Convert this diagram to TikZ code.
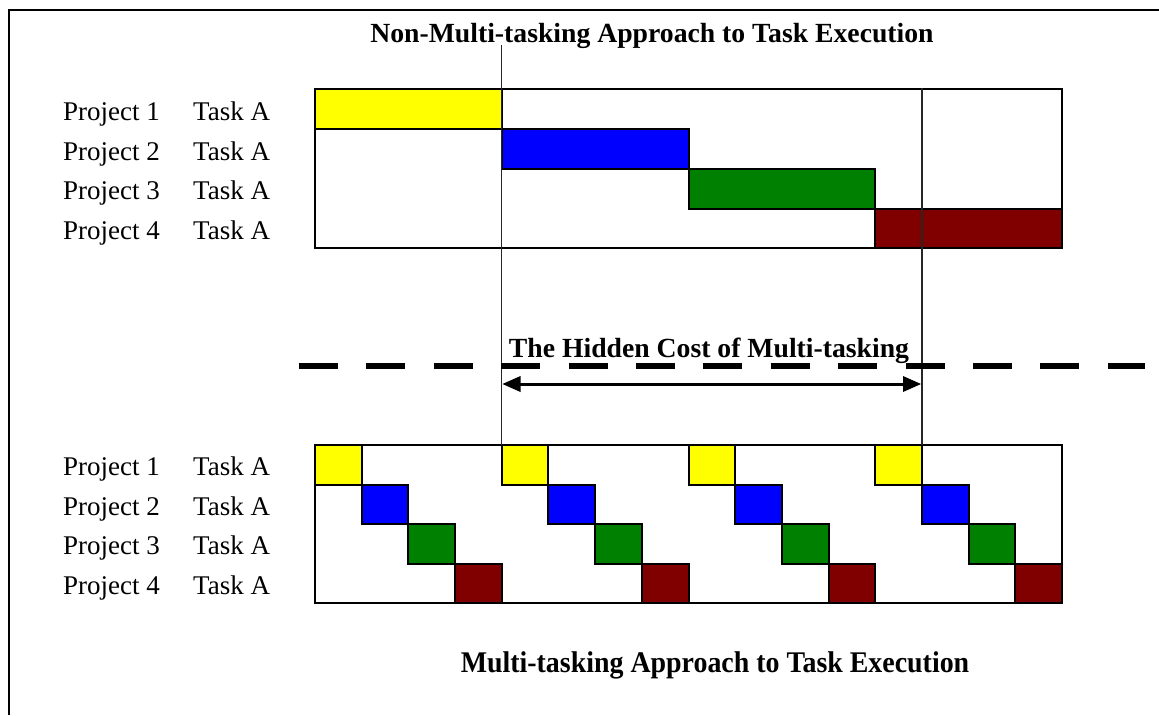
\documentclass[tikz,border=0pt]{standalone}
\usepackage{fontspec}
\setmainfont{Liberation Serif}
\usetikzlibrary{calc}
\definecolor{taskYellow}{RGB}{255,255,0}
\definecolor{taskBlue}{RGB}{0,0,255}
\definecolor{taskGreen}{RGB}{0,128,0}
\definecolor{taskRed}{RGB}{128,0,0}

\begin{document}
\begin{tikzpicture}[x=1pt,y=-1pt]
	\tikzstyle{every node}+=[inner sep=0pt]
	\tikzstyle{lbl}=[anchor=base west,font=\fontsize{27}{30}\selectfont]
	\tikzstyle{ttl}=[anchor=base,font=\fontsize{27.7}{30}\selectfont\bfseries]
	\tikzstyle{box}=[draw=black,line width=2pt]
	\useasboundingbox (0,0) rectangle (1159,715);
	% frame (cut off on the right and at the bottom)
	\draw [black,line width=2.5pt] (1159,10) -- (9,10) -- (9,715);
	% titles
	\node [ttl] (topTitle) at (652,42) {Non-Multi-tasking Approach to Task Execution};
	\node [ttl] (costTitle) at (709,357) {The Hidden Cost of Multi-tasking};
	\node [anchor=base,font=\fontsize{30}{32}\selectfont\bfseries] (botTitle) at (715,672) {\scalebox{0.93}[1]{Multi-tasking Approach to Task Execution}};
	% row labels, upper chart
	\node [lbl] (proj1a) at (63,120) {Project 1};
	\node [lbl] (task1a) at (193,120) {Task A};
	\node [lbl] (proj2a) at (63,160) {Project 2};
	\node [lbl] (task2a) at (193,160) {Task A};
	\node [lbl] (proj3a) at (63,199.5) {Project 3};
	\node [lbl] (task3a) at (193,199.5) {Task A};
	\node [lbl] (proj4a) at (63,239) {Project 4};
	\node [lbl] (task4a) at (193,239) {Task A};
	% row labels, lower chart
	\node [lbl] (proj1b) at (63,475.5) {Project 1};
	\node [lbl] (task1b) at (193,475.5) {Task A};
	\node [lbl] (proj2b) at (63,515) {Project 2};
	\node [lbl] (task2b) at (193,515) {Task A};
	\node [lbl] (proj3b) at (63,554.5) {Project 3};
	\node [lbl] (task3b) at (193,554.5) {Task A};
	\node [lbl] (proj4b) at (63,594) {Project 4};
	\node [lbl] (task4b) at (193,594) {Task A};
	% upper chart
	\draw [box] (315,89) rectangle (1062,248);
	\filldraw [box,fill=taskYellow] (315,89) rectangle (501.75,129);
	\filldraw [box,fill=taskBlue] (501.75,129) rectangle (688.5,169);
	\filldraw [box,fill=taskGreen] (688.5,169) rectangle (875.25,209);
	\filldraw [box,fill=taskRed] (875.25,209) rectangle (1062,248);
	% lower chart
	\draw [box] (315,445) rectangle (1062,603);
	\filldraw [box,fill=taskYellow] (315,445) rectangle (361.7,484.5);
	\filldraw [box,fill=taskBlue] (361.7,484.5) rectangle (408.4,524);
	\filldraw [box,fill=taskGreen] (408.4,524) rectangle (455.1,563.5);
	\filldraw [box,fill=taskRed] (455.1,563.5) rectangle (501.75,603);
	\filldraw [box,fill=taskYellow] (501.75,445) rectangle (548.4,484.5);
	\filldraw [box,fill=taskBlue] (548.4,484.5) rectangle (595.1,524);
	\filldraw [box,fill=taskGreen] (595.1,524) rectangle (641.8,563.5);
	\filldraw [box,fill=taskRed] (641.8,563.5) rectangle (688.5,603);
	\filldraw [box,fill=taskYellow] (688.5,445) rectangle (735.2,484.5);
	\filldraw [box,fill=taskBlue] (735.2,484.5) rectangle (781.9,524);
	\filldraw [box,fill=taskGreen] (781.9,524) rectangle (828.6,563.5);
	\filldraw [box,fill=taskRed] (828.6,563.5) rectangle (875.25,603);
	\filldraw [box,fill=taskYellow] (875.25,445) rectangle (921.9,484.5);
	\filldraw [box,fill=taskBlue] (921.9,484.5) rectangle (968.6,524);
	\filldraw [box,fill=taskGreen] (968.6,524) rectangle (1015.3,563.5);
	\filldraw [box,fill=taskRed] (1015.3,563.5) rectangle (1062,603);
	% guide lines
	\draw [black!85,line width=1.2pt] (501.75,45) -- (501.75,445);
	\draw [black!85,line width=1.2pt] (921.9,88) -- (921.9,445);
	% separator
	\draw [black,line width=6pt,dash pattern=on 39pt off 28.4pt] (299,366) -- (1145,366);
	% hidden cost arrow
	\coordinate (costL) at (502.5,384);
	\coordinate (costR) at (921,384);
	\draw [black,line width=3pt] ($(costL)+(14,0)$) -- ($(costR)+(-14,0)$);
	\fill [black] (costL) -- ++(18,-8) -- ++(0,16) -- cycle;
	\fill [black] (costR) -- ++(-18,-8) -- ++(0,16) -- cycle;
\end{tikzpicture}
\end{document}
